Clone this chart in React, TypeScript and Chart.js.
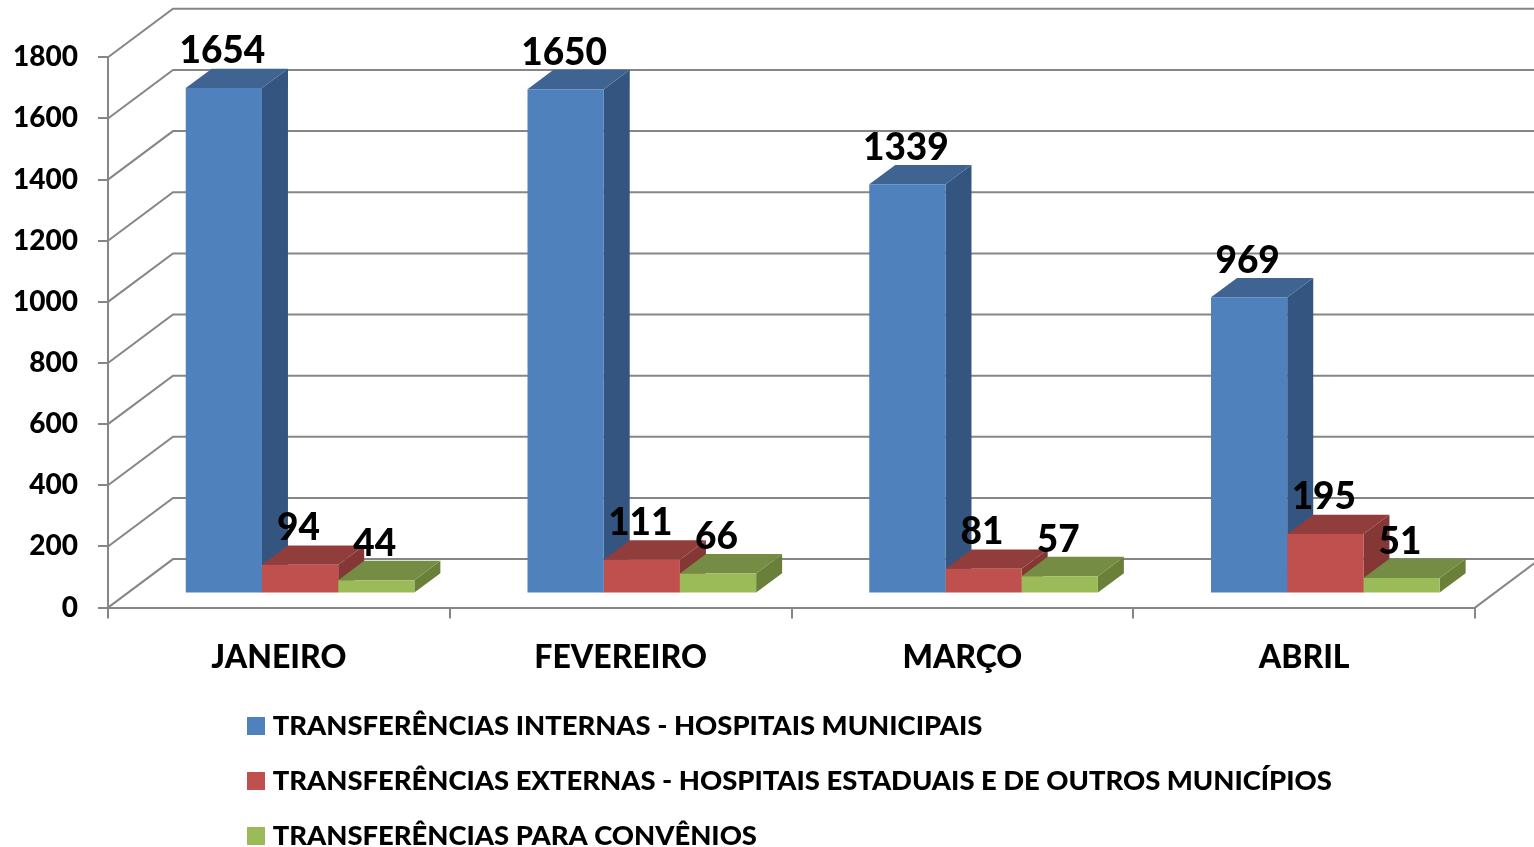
import React, { useEffect, useRef } from "react";
import { Chart, registerables } from "chart.js";

Chart.register(...registerables);

const months = ["JANEIRO", "FEVEREIRO", "MARÇO", "ABRIL"];
const internas = [1654, 1650, 1339, 969];
const externas = [94, 111, 81, 195];
const convenios = [44, 66, 57, 51];
const seriesNames = [
  "TRANSFERÊNCIAS INTERNAS - HOSPITAIS MUNICIPAIS",
  "TRANSFERÊNCIAS EXTERNAS - HOSPITAIS ESTADUAIS E DE OUTROS MUNICÍPIOS",
  "TRANSFERÊNCIAS PARA CONVÊNIOS",
];
const frontColors = ["#4F81BD", "#C0504D", "#9BBB59"];
const topColors = ["#3F6492", "#913D3B", "#748C43"];
const sideColors = ["#34557F", "#853735", "#6A8038"];

const FONT = "Lato, Carlito, sans-serif";
const AXIS_COLOR = "#868686";
// projection of the 3D box
const WALL_DX = 65;
const WALL_DY = 48.5;
const BAR_SHIFT_X = 21.2;
const BAR_SHIFT_Y = 14;
const DEPTH_DX = 26;
const DEPTH_DY = 19.3;

function swatch(color: string) {
  const c = document.createElement("canvas");
  c.width = 18;
  c.height = 18;
  const g = c.getContext("2d")!;
  g.fillStyle = color;
  g.fillRect(0, 0, 18, 18);
  return c;
}

const poly = (ctx: CanvasRenderingContext2D, pts: number[][], fill: string) => {
  ctx.beginPath();
  pts.forEach(([x, y], i) => (i ? ctx.lineTo(x, y) : ctx.moveTo(x, y)));
  ctx.closePath();
  ctx.fillStyle = fill;
  ctx.fill();
};

const box3d = {
  id: "box3d",
  beforeLayout(chart: any) {
    // the legend sits in a fixed place, so it takes no room from the axes
    const lg = chart.legend;
    if (lg && !lg.__wrapped) {
      const fit = lg.fit;
      lg.fit = function () {
        fit.call(this);
        this.height = 1;
      };
      lg.__wrapped = true;
    }
  },
  afterLayout(chart: any) {
    const lg = chart.legend;
    if (lg) {
      lg.left = 253 - lg.options.labels.padding;
      lg.right = lg.left + 1200;
      lg.top = 685;
      lg.bottom = 847;
    }
  },
  beforeDatasetsDraw(chart: any) {
    const { ctx, scales } = chart;
    const y = scales.y;
    const xs = scales.x;
    const right = xs.right;
    const left = xs.left;
    ctx.save();
    ctx.strokeStyle = AXIS_COLOR;
    ctx.lineWidth = 2;
    y.ticks.forEach((t: any) => {
      const p = y.getPixelForValue(t.value);
      ctx.beginPath();
      ctx.moveTo(left, p);
      ctx.lineTo(left + WALL_DX, p - WALL_DY);
      ctx.lineTo(right + WALL_DX, p - WALL_DY);
      ctx.stroke();
    });
    const p0 = y.getPixelForValue(0);
    ctx.beginPath();
    ctx.moveTo(right, p0);
    ctx.lineTo(right + WALL_DX, p0 - WALL_DY);
    ctx.stroke();

    // side and top faces of the bars, in series order
    chart.data.datasets.forEach((_: any, di: number) => {
      chart.getDatasetMeta(di).data.forEach((bar: any) => {
        const r = bar.x + bar.width / 2 + BAR_SHIFT_X;
        const l = bar.x - bar.width / 2 + BAR_SHIFT_X;
        const top = bar.y - BAR_SHIFT_Y;
        const base = bar.base - BAR_SHIFT_Y;
        poly(ctx, [[r, top], [r + DEPTH_DX, top - DEPTH_DY], [r + DEPTH_DX, base - DEPTH_DY], [r, base]], sideColors[di]);
        poly(ctx, [[l, top], [l + DEPTH_DX, top - DEPTH_DY], [r + DEPTH_DX, top - DEPTH_DY], [r, top]], topColors[di]);
      });
    });
    ctx.restore();
  },
  beforeDatasetDraw(chart: any) {
    chart.ctx.save();
    chart.ctx.translate(BAR_SHIFT_X, -BAR_SHIFT_Y);
  },
  afterDatasetDraw(chart: any) {
    chart.ctx.restore();
  },
  afterDatasetsDraw(chart: any) {
    const { ctx } = chart;
    ctx.save();
    ctx.font = `900 37px ${FONT}`;
    ctx.fillStyle = "#000";
    ctx.textAlign = "center";
    ctx.textBaseline = "alphabetic";
    chart.data.datasets.forEach((ds: any, di: number) => {
      chart.getDatasetMeta(di).data.forEach((bar: any, i: number) => {
        ctx.fillText(String(ds.data[i]), bar.x + BAR_SHIFT_X - 1.5, bar.y - BAR_SHIFT_Y - 24.5);
      });
    });
    ctx.restore();
  },
};

export default function App() {
  const ref = useRef<HTMLCanvasElement>(null);
  useEffect(() => {
    const swatches = frontColors.map(swatch);
    const chart = new Chart(ref.current!, {
      type: "bar",
      data: {
        labels: months,
        datasets: [internas, externas, convenios].map((data, i) => ({
          label: seriesNames[i],
          data,
          backgroundColor: frontColors[i],
          borderWidth: 0,
          clip: false as any,
          categoryPercentage: 0.669,
          barPercentage: 1,
        })),
      },
      plugins: [box3d],
      options: {
        responsive: false,
        animation: false,
        layout: { padding: { top: 57.3, right: 59, bottom: 0, left: 0 } },
        plugins: {
          tooltip: { enabled: false },
          legend: {
            position: "bottom",
            align: "start",
            maxWidth: 1150,
            labels: {
              color: "#000",
              font: { family: FONT, weight: "900", size: 27.4 },
              usePointStyle: true,
              boxWidth: 6,
              boxHeight: 18,
              pointStyleWidth: 6,
              padding: 27.6,
              generateLabels: (c: any) =>
                Chart.defaults.plugins.legend.labels
                  .generateLabels(c)
                  .map((it: any, i: number) => ({ ...it, pointStyle: swatches[i] })),
            },
          },
        },
        scales: {
          x: {
            afterFit: (s: any) => {
              s.height = 238.4;
            },
            border: { color: AXIS_COLOR, width: 2 },
            grid: { drawOnChartArea: false, color: AXIS_COLOR, tickLength: 11, lineWidth: 2, offset: true },
            ticks: {
              color: "#000",
              padding: 20,
              font: { family: FONT, weight: "900", size: 32 },
              maxRotation: 0,
            },
          },
          y: {
            min: 0,
            max: 1800,
            afterFit: (s: any) => {
              s.width = 108;
            },
            border: { color: AXIS_COLOR, width: 2 },
            grid: { drawOnChartArea: false, color: AXIS_COLOR, tickLength: 10, lineWidth: 2 },
            ticks: {
              stepSize: 200,
              color: "#000",
              padding: 20,
              font: { family: FONT, weight: "900", size: 28 },
              callback: (v: any) => String(v),
            },
          },
        },
      } as any,
    });
    return () => chart.destroy();
  }, []);
  return (
    <canvas
      ref={ref}
      width={1534}
      height={847}
      style={{ position: "absolute", left: 0, top: 0, width: 1534, height: 847, display: "block" }}
    />
  );
}
